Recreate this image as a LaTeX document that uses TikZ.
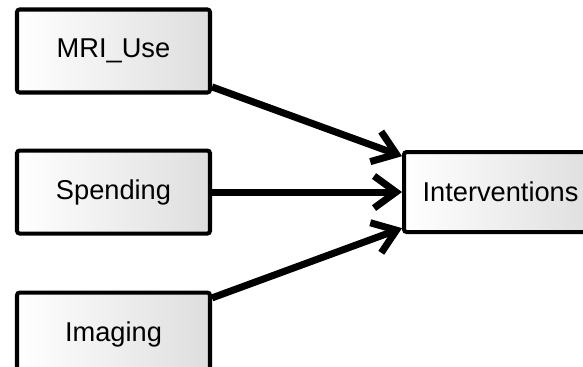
\documentclass[tikz,border=0pt]{standalone}
\usepackage{fontspec}
\setmainfont{Liberation Sans}
\usetikzlibrary{arrows.meta, positioning}

\begin{document}
\begin{tikzpicture}[
        node distance=1.08cm and 3.8cm,
        box/.style={rectangle, draw=black, line width=2.3pt, rounded corners=1.5pt,
            left color=white, right color=black!13, minimum width=3.86cm,
            minimum height=1.66cm, align=center, font=\fontsize{15.5}{18}\selectfont},
        arrow/.style={-{Straight Barb[length=0.44cm, width=0.64cm]}, line width=4pt}
    ]

    % Frame
    \clip (0,0) rectangle (11.66,-7.34);
    \useasboundingbox (0,0) rectangle (11.66,-7.34);

    % Nodes
    \node (mri) [box] at (2.27,-1.02) {MRI\_Use};
    \node (spending) [box, below=of mri] {Spending};
    \node (imaging) [box, below=1.1cm of spending] {Imaging};
    \node (interv) [box, minimum height=1.6cm, right=of spending] {Interventions};

    % Connections
    \draw [arrow] (mri) -- (interv);
    \draw [arrow] (spending) -- (interv);
    \draw [arrow] (imaging) -- (interv);

\end{tikzpicture}
\end{document}
